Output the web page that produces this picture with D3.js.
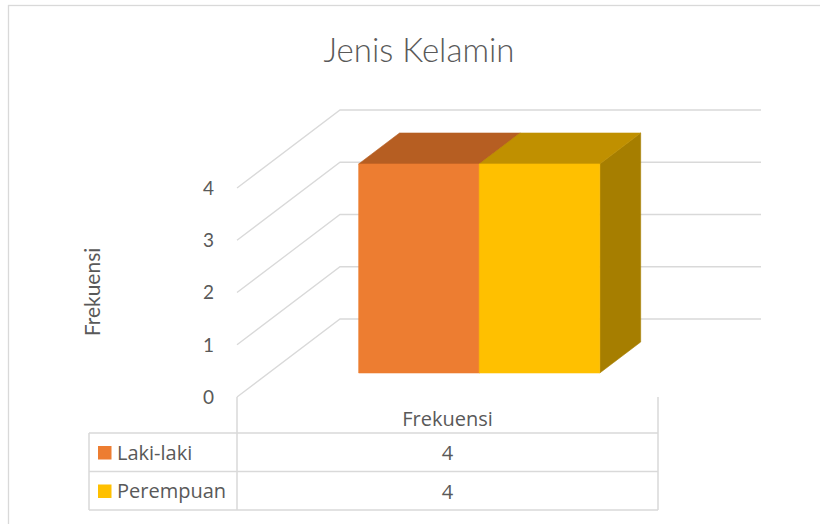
<!DOCTYPE html>
<html>
<head>
<meta charset="utf-8">
<script src="https://cdn.jsdelivr.net/npm/d3@7"></script>
<style>
  body { margin: 0; background: #fff; }
  svg { display: block; }
</style>
</head>
<body>
<div id="chart"></div>
<script>
// ---------------------------------------------------------------------------
// 3D clustered column with data table — "Jenis Kelamin"
// ---------------------------------------------------------------------------
const categories = ['Frekuensi'];
const seriesNames = ['Laki-laki', 'Perempuan'];
const seriesValues = [[4], [4]];
const yTicks = [0, 1, 2, 3, 4];
const chartTitle = 'Jenis Kelamin';
const yAxisTitle = 'Frekuensi';

const W = 820, H = 524;
const textColor = '#595959';
const lineColor = '#d9d9d9';
const colors = {
  front: ['#ED7D31', '#FFC000'],
  top: ['#B65E22', '#C09000'],
  side: ['#A0531C', '#A67E00'],
};

// front plane of the plot and the depth offset to the back wall
const plot = { left: 237, right: 658, bottom: 397, top: 188 };
const depth = { dx: 103, dy: -78 };
const barDepth = [0.308, 0.705];

const svg = d3.select('#chart')
  .append('svg')
  .attr('width', W)
  .attr('height', H)
  .style('font-family', 'Lato, sans-serif');

svg.append('rect')
  .attr('x', 8.5).attr('y', 5.5)
  .attr('width', W).attr('height', H)
  .attr('fill', '#fff')
  .attr('stroke', lineColor)
  .attr('stroke-width', 1.3);

const y = d3.scaleLinear().domain([0, 4]).range([plot.bottom, plot.top]);
const x = d3.scaleBand().domain(categories).range([plot.left, plot.right])
  .paddingInner(0).paddingOuter(0.373);
const xs = d3.scaleBand().domain(seriesNames).range([0, x.bandwidth()]);

const proj = (xf, v, t) => [xf + depth.dx * t, y(v) + depth.dy * t];
const line = d3.line();

// gridlines: diagonal on the side wall + horizontal on the back wall
svg.append('g')
  .selectAll('path')
  .data(yTicks)
  .join('path')
  .attr('d', (v) => line([proj(plot.left, v, 0), proj(plot.left, v, 1), proj(plot.right, v, 1)]))
  .attr('fill', 'none')
  .attr('stroke', lineColor)
  .attr('stroke-width', 1.3);

// tick labels
svg.append('g')
  .selectAll('text')
  .data(yTicks)
  .join('text')
  .attr('x', 214)
  .attr('y', (v) => y(v))
  .attr('dy', '0.36em')
  .attr('text-anchor', 'end')
  .attr('fill', textColor)
  .style('font-size', '19px')
  .text((v) => v);

// bars
const bars = [];
seriesNames.forEach((s, i) => {
  categories.forEach((c, j) => {
    bars.push({ i, xl: x(c) + xs(s), xr: x(c) + xs(s) + xs.bandwidth(), v: seriesValues[i][j] });
  });
});

const [t0, t1] = barDepth;
const barG = svg.append('g');
bars.forEach((b) => {
  const faces = [
    { pts: [proj(b.xr, 0, t0), proj(b.xr, 0, t1), proj(b.xr, b.v, t1), proj(b.xr, b.v, t0)], fill: colors.side[b.i] },
    { pts: [proj(b.xl, b.v, t0), proj(b.xr, b.v, t0), proj(b.xr, b.v, t1), proj(b.xl, b.v, t1)], fill: colors.top[b.i] },
    { pts: [proj(b.xl, 0, t0), proj(b.xr, 0, t0), proj(b.xr, b.v, t0), proj(b.xl, b.v, t0)], fill: colors.front[b.i] },
  ];
  faces.forEach((f) => {
    barG.append('path')
      .attr('d', line(f.pts) + 'Z')
      .attr('fill', f.fill)
      .attr('stroke', f.fill)
      .attr('stroke-width', 0.6);
  });
});

// title + axis title
svg.append('text')
  .attr('x', 419).attr('y', 62)
  .attr('text-anchor', 'middle')
  .attr('fill', textColor)
  .style('font-size', '33px')
  .style('font-weight', 300)
  .text(chartTitle);

svg.append('text')
  .attr('transform', 'translate(100,292) rotate(-90)')
  .attr('text-anchor', 'middle')
  .attr('fill', textColor)
  .style('font-size', '21px')
  .text(yAxisTitle);

// data table
const table = { left: 89, rowTop: 433, rowH: 38.5 };
const tg = svg.append('g')
  .attr('stroke', lineColor)
  .attr('stroke-width', 1.5)
  .attr('fill', 'none');

seriesNames.concat(['end']).forEach((_, k) => {
  tg.append('line')
    .attr('x1', table.left).attr('x2', plot.right)
    .attr('y1', table.rowTop + k * table.rowH).attr('y2', table.rowTop + k * table.rowH);
});
const tableBottom = table.rowTop + seriesNames.length * table.rowH;
tg.append('line').attr('x1', table.left).attr('x2', table.left).attr('y1', table.rowTop).attr('y2', tableBottom);
tg.append('line').attr('x1', plot.left).attr('x2', plot.left).attr('y1', plot.bottom).attr('y2', tableBottom);
tg.append('line').attr('x1', plot.right).attr('x2', plot.right).attr('y1', plot.bottom).attr('y2', tableBottom);

const tableFont = "'Open Sans', sans-serif";
svg.append('g')
  .selectAll('text')
  .data(categories)
  .join('text')
  .attr('x', (c) => x(c) + x.bandwidth() / 2)
  .attr('y', 426)
  .attr('text-anchor', 'middle')
  .attr('fill', textColor)
  .style('font-family', tableFont)
  .style('font-size', '20px')
  .text((c) => c);

const rows = svg.append('g')
  .selectAll('g')
  .data(seriesNames)
  .join('g')
  .attr('transform', (s, k) => `translate(0,${table.rowTop + k * table.rowH})`);

rows.append('rect')
  .attr('x', 98).attr('y', 13)
  .attr('width', 13.5).attr('height', 13.5)
  .attr('fill', (s, k) => colors.front[k]);

rows.append('text')
  .attr('x', 117).attr('y', 26.5)
  .attr('fill', textColor)
  .style('font-family', tableFont)
  .style('font-size', '20px')
  .text((s) => s);

rows.selectAll('text.val')
  .data((s, k) => categories.map((c, j) => ({ c, v: seriesValues[k][j] })))
  .join('text')
  .attr('class', 'val')
  .attr('x', (d) => x(d.c) + x.bandwidth() / 2)
  .attr('y', 27)
  .attr('text-anchor', 'middle')
  .attr('fill', textColor)
  .style('font-family', tableFont)
  .style('font-size', '20px')
  .text((d) => d.v);
</script>
</body>
</html>
